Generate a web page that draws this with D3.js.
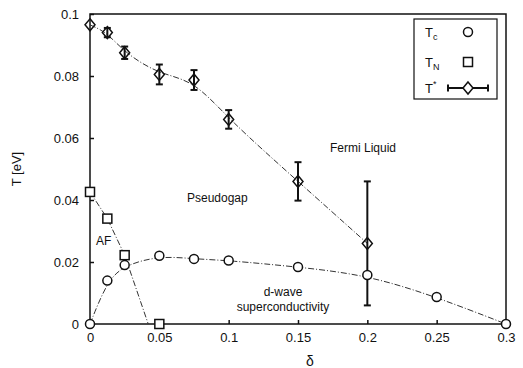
<!DOCTYPE html>
<html>
<head>
    <meta charset="UTF-8">
    <style>
        *{ margin: 0; padding: 0; }
        body{ background-color: #fff; }
        text{ font-family: "Liberation Sans", Arial, sans-serif; fill: #111; }
        .axis text{ font-size: 13px; }
        .axis path, .axis line{ stroke: #111; stroke-width: 1.5px; }
        .fit{ fill: none; stroke: #333; stroke-width: 1px; stroke-dasharray: 6,2,1,2; }
        .mk{ fill: #fff; stroke: #111; stroke-width: 1.5px; }
        .err{ stroke: #111; stroke-width: 2px; }
        .lab{ font-size: 12px; }
    </style>
    <script src="https://d3js.org/d3.v7.min.js"></script>
    <title>Phase diagram</title>
</head>
<body>
<svg id="chart" width="523" height="368"></svg>
<script>
    // doping values and temperatures (eV)
    var tcDelta = [0, 0.0125, 0.025, 0.05, 0.075, 0.1, 0.15, 0.2, 0.25, 0.3];
    var tcVal   = [0, 0.014, 0.019, 0.022, 0.021, 0.0205, 0.0184, 0.0158, 0.0087, 0];

    var tnDelta = [0, 0.0125, 0.025, 0.05];
    var tnVal   = [0.0426, 0.034, 0.0222, 0];
    // end of the AF boundary line
    var tnLineDelta = [0, 0.0125, 0.025, 0.042];
    var tnLineVal   = [0.0426, 0.034, 0.0222, 0];

    var tsDelta = [0, 0.0125, 0.025, 0.05, 0.075, 0.1, 0.15, 0.2];
    var tsVal   = [0.0965, 0.094, 0.0875, 0.0805, 0.0787, 0.066, 0.046, 0.026];
    var tsErr   = [0, 0.0015, 0.002, 0.0032, 0.0032, 0.003, 0.0062, 0.02];

    var xTicks = [0, 0.05, 0.1, 0.15, 0.2, 0.25, 0.3];
    var xTickLabels = ["0", "0.05", "0.1", "0.15", "0.2", "0.25", "0.3"];
    var yTicks = [0, 0.02, 0.04, 0.06, 0.08, 0.1];
    var yTickLabels = ["0", "0.02", "0.04", "0.06", "0.08", "0.1"];

    var svg = d3.select("#chart");
    var pLeft = 90, pRight = 506, pTop = 14, pBottom = 324;

    var x = d3.scaleLinear().domain([0, 0.3]).range([pLeft, pRight]);
    var y = d3.scaleLinear().domain([0, 0.1]).range([pBottom, pTop]);

    // frame
    svg.append("rect")
        .attr("x", pLeft).attr("y", pTop)
        .attr("width", pRight - pLeft).attr("height", pBottom - pTop)
        .attr("fill", "none").attr("stroke", "#111").attr("stroke-width", 1.5);

    svg.append("g")
        .attr("class", "axis")
        .attr("transform", "translate(0," + pBottom + ")")
        .call(d3.axisBottom(x).tickValues(xTicks)
            .tickFormat(function(d, i) { return xTickLabels[i]; })
            .tickSizeInner(-4).tickSizeOuter(0).tickPadding(9));

    svg.append("g")
        .attr("class", "axis")
        .attr("transform", "translate(" + pLeft + ",0)")
        .call(d3.axisLeft(y).tickValues(yTicks)
            .tickFormat(function(d, i) { return yTickLabels[i]; })
            .tickSizeInner(-4).tickSizeOuter(0).tickPadding(11));

    svg.selectAll(".axis .domain").remove();

    svg.append("text")
        .attr("transform", "translate(21,169) rotate(-90)")
        .attr("text-anchor", "middle")
        .attr("font-size", "13px")
        .text("T [eV]");

    svg.append("text")
        .attr("x", 310).attr("y", 366)
        .attr("text-anchor", "middle")
        .attr("font-size", "14px")
        .attr("font-family", "DejaVu Serif, serif")
        .text("δ");

    function pts(a, b) { return a.map(function(d, i) { return [d, b[i]]; }); }

    var line = d3.line()
        .x(function(d) { return x(d[0]); })
        .y(function(d) { return y(d[1]); });

    var smooth = d3.line()
        .x(function(d) { return x(d[0]); })
        .y(function(d) { return y(d[1]); })
        .curve(d3.curveBasis);

    svg.append("path").attr("class", "fit").attr("d", smooth(pts(tcDelta, tcVal)));
    svg.append("path").attr("class", "fit").attr("d", line(pts(tnLineDelta, tnLineVal)));
    svg.append("path").attr("class", "fit").attr("d", smooth(pts(tsDelta, tsVal)));

    // error bars for T*
    var ts = pts(tsDelta, tsVal);
    var eb = svg.append("g");
    ts.forEach(function(d, i) {
        if (!tsErr[i]) return;
        var y0 = y(d[1] - tsErr[i]), y1 = y(d[1] + tsErr[i]), cx = x(d[0]);
        eb.append("line").attr("class", "err").attr("x1", cx).attr("x2", cx).attr("y1", y0).attr("y2", y1);
        eb.append("line").attr("class", "err").attr("x1", cx - 3.5).attr("x2", cx + 3.5).attr("y1", y0).attr("y2", y0);
        eb.append("line").attr("class", "err").attr("x1", cx - 3.5).attr("x2", cx + 3.5).attr("y1", y1).attr("y2", y1);
    });

    var diamond = "M0,-6L5,0L0,6L-5,0Z";

    svg.selectAll(".tc").data(pts(tcDelta, tcVal)).enter()
        .append("circle").attr("class", "mk")
        .attr("cx", function(d) { return x(d[0]); })
        .attr("cy", function(d) { return y(d[1]); })
        .attr("r", 4.5);

    svg.selectAll(".tn").data(pts(tnDelta, tnVal)).enter()
        .append("rect").attr("class", "mk")
        .attr("x", function(d) { return x(d[0]) - 4.5; })
        .attr("y", function(d) { return y(d[1]) - 4.5; })
        .attr("width", 9).attr("height", 9);

    svg.selectAll(".ts").data(ts).enter()
        .append("path").attr("class", "mk")
        .attr("fill-opacity", 0)
        .attr("transform", function(d) { return "translate(" + x(d[0]) + "," + y(d[1]) + ")"; })
        .attr("d", diamond);

    // region labels
    svg.append("text").attr("class", "lab").attr("x", 330).attr("y", 152).text("Fermi Liquid");
    svg.append("text").attr("class", "lab").attr("x", 187).attr("y", 202).text("Pseudogap");
    svg.append("text").attr("class", "lab").attr("x", 96).attr("y", 245).text("AF");
    svg.append("text").attr("class", "lab").attr("x", 283).attr("y", 296).attr("text-anchor", "middle").text("d-wave");
    svg.append("text").attr("class", "lab").attr("x", 283).attr("y", 311).attr("text-anchor", "middle").text("superconductivity");

    // legend
    var lg = svg.append("g");
    lg.append("rect").attr("x", 414).attr("y", 19).attr("width", 83).attr("height", 80)
        .attr("fill", "#fff").attr("stroke", "#111").attr("stroke-width", 1.2);

    var t1 = lg.append("text").attr("x", 425).attr("y", 37).attr("font-size", "13px").text("T");
    t1.append("tspan").attr("font-size", "9px").attr("dy", 3).text("c");
    var t2 = lg.append("text").attr("x", 425).attr("y", 67).attr("font-size", "13px").text("T");
    t2.append("tspan").attr("font-size", "9px").attr("dy", 3).text("N");
    var t3 = lg.append("text").attr("x", 425).attr("y", 93).attr("font-size", "13px").text("T");
    t3.append("tspan").attr("font-size", "9px").attr("dy", -6).text("*");

    lg.append("circle").attr("class", "mk").attr("cx", 468).attr("cy", 32).attr("r", 4.5);
    lg.append("rect").attr("class", "mk").attr("x", 463.5).attr("y", 57.5).attr("width", 9).attr("height", 9);
    lg.append("line").attr("class", "err").attr("x1", 448).attr("x2", 488).attr("y1", 88).attr("y2", 88);
    lg.append("line").attr("class", "err").attr("x1", 448).attr("x2", 448).attr("y1", 84.5).attr("y2", 91.5);
    lg.append("line").attr("class", "err").attr("x1", 488).attr("x2", 488).attr("y1", 84.5).attr("y2", 91.5);
    lg.append("path").attr("class", "mk").attr("transform", "translate(468,88)").attr("d", diamond);
</script>
</body>
</html>
